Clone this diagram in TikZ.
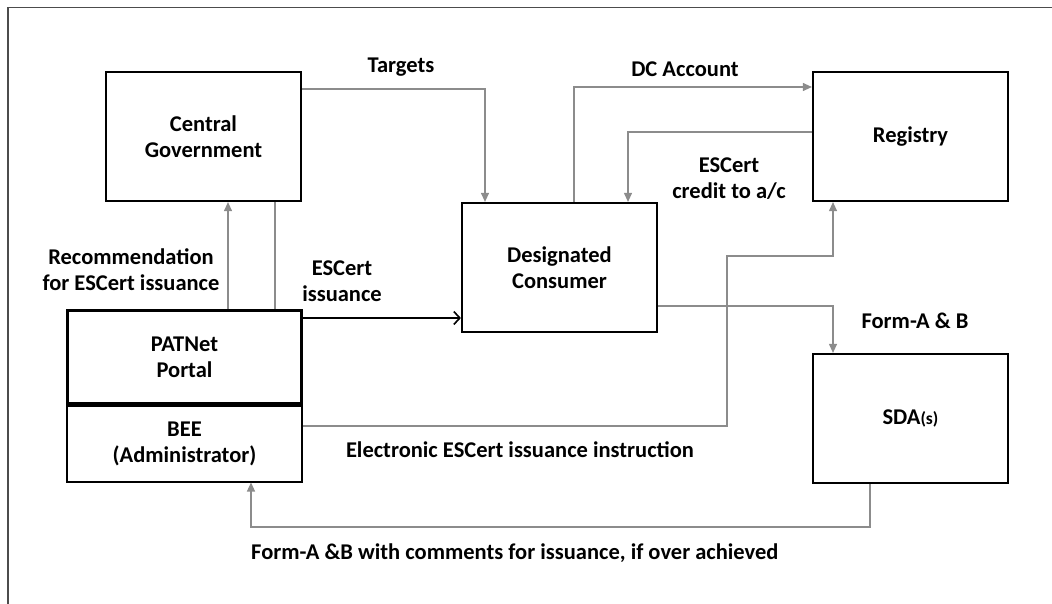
\documentclass[tikz,border=0pt]{standalone}
\usepackage{fontspec}
\setmainfont{Carlito}
\usetikzlibrary{arrows.meta}
\begin{document}
\begin{tikzpicture}[x=1pt,y=-1pt,
  lbl/.style={font=\fontsize{22.5}{26}\selectfont\bfseries,align=center,inner sep=0pt},
  box/.style={lbl,draw=black,line width=2.2pt,minimum width=195pt,minimum height=129pt},
  conn/.style={draw=black!45,line width=1.1pt,-{Triangle[length=9pt,width=8pt]}},
  plainconn/.style={draw=black!45,line width=1.1pt},
  blackarrow/.style={draw=black,line width=1.1pt,-{Straight Barb[length=6pt,width=13pt,line width=1.6pt]}},
  frame/.style={draw=black!70,line width=1.3pt}]
\useasboundingbox (0,0) rectangle (1052,604);
\draw[frame] (1052,7.5) -- (8,7.5) -- (8,604);
% boxes
\node[box] (cg) at (203.5,136.5) {Central\\Government};
\node[box] (dc) at (559.5,267.5) {Designated\\Consumer};
\node[box] (reg) at (910.5,136.5) {Registry};
\node[box] (sda) at (910.5,418.5) {SDA{\fontsize{17.5}{20}\selectfont(s)}};
\node[box,line width=3pt,minimum width=234pt,minimum height=93pt] (pat) at (184.5,357) {PATNet\\Portal};
\node[box,line width=2pt,minimum width=235pt,minimum height=76pt] (bee) at (184.5,443.5) {BEE\\(Administrator)};
% connectors
\draw[conn] (cg.east |- 0,89) -| (485,0 |- dc.north);
\draw[conn] (574,0 |- dc.north) |- (reg.west |- 0,87);
\draw[conn] (reg.west |- 0,132) -| (628,0 |- dc.north);
\draw[conn] (bee.east |- 0,426) -| (727,256) -| (833,0 |- reg.south);
\draw[conn] (dc.east |- 0,306) -| (833,0 |- sda.north);
\draw[conn] (870,0 |- sda.south) -- (870,527) -| (251,0 |- bee.south);
\draw[conn] (228,0 |- pat.north) -- (228,0 |- cg.south);
\draw[plainconn] (275,0 |- cg.south) -- (275,0 |- pat.north);
\draw[blackarrow] (pat.east |- 0,318) -- (dc.west |- 0,318);
% labels
\node[lbl] (l1) at (401,67) {Targets};
\node[lbl] (l2) at (685,69) {DC Account};
\node[lbl] (l3) at (729,179) {ESCert\\credit to a/c};
\node[lbl] (l4) at (131,270) {Recommendation\\for ESCert issuance};
\node[lbl] (l5) at (342,281) {ESCert\\issuance};
\node[lbl] (l6) at (915,321) {Form-A \& B};
\node[lbl] (l7) at (520,450) {Electronic ESCert issuance instruction};
\node[lbl,anchor=west] (l8) at (251,553) {Form-A \&B with comments for issuance, if over achieved};
\end{tikzpicture}
\end{document}
